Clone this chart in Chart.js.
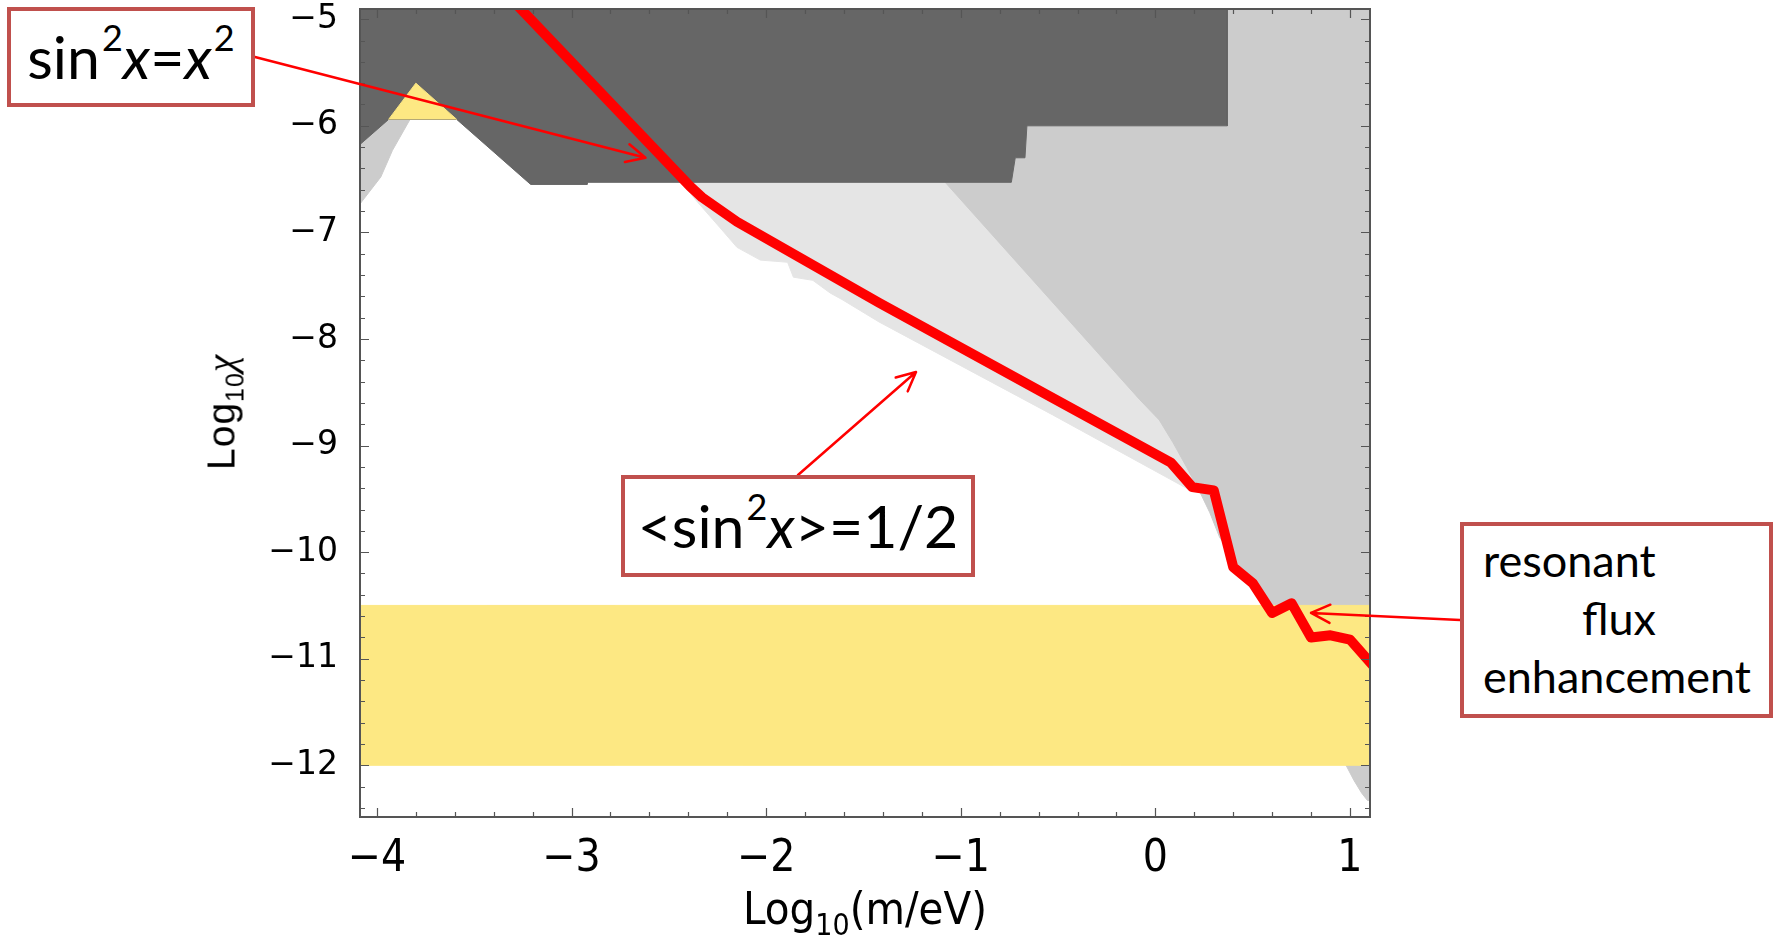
<!DOCTYPE html>
<html>
<head>
<meta charset="utf-8">
<title>Log10 chi vs Log10 m</title>
<script src="https://cdn.jsdelivr.net/npm/chart.js@4.4.1/dist/chart.umd.min.js"></script>
<style>
  html, body { margin: 0; padding: 0; background: #fff; }
  #wrap { position: relative; width: 1775px; height: 937px; overflow: hidden; }
  #chart { position: absolute; left: 0; top: 0; }
  .box { position: absolute; box-sizing: border-box; border: 4px solid #c0504d; background: #fff;
         font-family: Lato, 'Open Sans', sans-serif; color: #000; white-space: nowrap; }
  .box sup { font-size: 36px; position: relative; top: -28px; vertical-align: baseline; line-height: 0; margin-left: 2px; }
  #box1 { left: 7px; top: 7px; width: 248px; height: 100px; font-size: 59px; line-height: 92px; text-align: center; }
  #box2 { left: 621px; top: 475px; width: 354px; height: 102px; font-size: 59px; line-height: 94px; text-align: center; }
  #box3 { left: 1460px; top: 522px; width: 313px; height: 196px; font-size: 45px; line-height: 58px; padding: 5px 0 0 19px; }
  #box3 .indent { padding-left: 99px; }
  .axis-title { position: absolute; white-space: nowrap; color: #000; }
  .axis-title sub { vertical-align: baseline; position: relative; line-height: 0; }
  #xtitle { left: 865px; top: 886px; transform: translateX(-50%);
            font: 45px 'Liberation Sans Narrow', 'DejaVu Sans Condensed', sans-serif; line-height: 45px; }
  #xtitle sub { font-size: 30px; top: 11px; }
  #ytitle { left: 221px; top: 412px; transform: translate(-50%, -50%) rotate(-90deg);
            font: 39px 'Liberation Sans', Arial, sans-serif; line-height: 39px; letter-spacing: 1px; }
  #ytitle sub { font-size: 25px; top: 9px; }
  #ytitle i { font-family: 'Liberation Serif', serif; }
</style>
</head>
<body>
<div id="wrap">
  <canvas id="chart" width="1775" height="937"></canvas>
  <div class="box" id="box1">sin<sup>2</sup><i>x</i>=<i>x</i><sup>2</sup></div>
  <div class="box" id="box2">&lt;sin<sup>2</sup><i>x</i>&gt;=1/2</div>
  <div class="box" id="box3"><div>resonant</div><div class="indent">flux</div><div>enhancement</div></div>
  <div class="axis-title" id="xtitle">Log<sub>10</sub>(m/eV)</div>
  <div class="axis-title" id="ytitle">Log<sub>10</sub><i>χ</i></div>
</div>
<script>
// axis ticks
const xTicks = [-4, -3, -2, -1, 0, 1];
const yTicks = [-5, -6, -7, -8, -9, -10, -11, -12];

// red curve, <sin^2 x> = 1/2
const redX = [-3.32, -2.39, -2.33, -2.15, -1.42, -0.54, 0.08, 0.19, 0.30, 0.40, 0.50, 0.60, 0.70, 0.80, 0.90, 1.00, 1.15];
const redY = [-4.79, -6.57, -6.67, -6.90, -7.66, -8.54, -9.16, -9.39, -9.42, -10.14, -10.29, -10.57, -10.48, -10.80, -10.78, -10.82, -11.13];

// dark grey region at the top
const darkX = [-4.3, 0.37, 0.37, -0.66, -0.67, -0.72, -0.74, -2.92, -2.92, -3.21, -3.59, -3.94, -4.09, -4.3];
const darkY = [-4.7, -4.7, -6.0, -6.0, -6.30, -6.30, -6.53, -6.53, -6.55, -6.55, -5.94, -5.94, -6.18, -6.18];

// grey strip on the far left
const stripX = [-4.3, -3.90, -3.83, -3.92, -3.98, -4.09, -4.3];
const stripY = [-5.9, -5.90, -5.94, -6.23, -6.48, -6.74, -7.03];

// grey region on the right
const greyX = [-1.08, 1.2, 1.2, 1.09, 1.06, 1.02, 0.98, 0.77, 0.55, 0.49, 0.42, 0.33, 0.28, 0.23, 0.16, 0.09, 0.02, -0.08, -1.08];
const greyY = [-4.7, -4.7, -12.33, -12.33, -12.26, -12.14, -12.0, -11.29, -10.49, -10.33, -10.10, -9.86, -9.63, -9.44, -9.20, -8.97, -8.76, -8.57, -6.53];

// pale grey wedge along the red curve
const paleX = [-2.55, -2.43, -2.36, -2.24, -2.15, -2.03, -1.89, -1.86, -1.76, -1.67, -1.61, -1.42, -0.53, 0.18, 0.23, 0.60, 0.60];
const paleY = [-6.40, -6.54, -6.70, -6.95, -7.14, -7.26, -7.28, -7.42, -7.45, -7.57, -7.63, -7.84, -8.71, -9.42, -9.44, -8.50, -6.40];

// yellow band and the small yellow triangle
const bandX = [-4.3, 1.2, 1.2, -4.3];
const bandY = [-10.5, -10.5, -12.0, -12.0];
const triX = [-3.94, -3.80, -3.59];
const triY = [-5.94, -5.60, -5.94];

// where the annotation arrows point
const tipX = [-2.62, -1.23, 0.80];
const tipY = [-6.30, -8.31, -10.57];
const tipFrom = [['box1', 'right'], ['box2', 'top'], ['box3', 'left']];

function pts(xs, ys) {
    return xs.map((x, i) => ({ x: x, y: ys[i] }));
}

function area(xs, ys, color, order) {
    return {
        data: pts(xs, ys),
        fill: 'shape',
        backgroundColor: color,
        borderColor: color,
        borderWidth: 1,
        pointRadius: 0,
        clip: 0,
        order: order
    };
}

function minus(v) {
    return String(v).replace('-', '\u2212');
}

function anchorOf(id, side) {
    const el = document.getElementById(id);
    const l = el.offsetLeft, t = el.offsetTop, w = el.offsetWidth, h = el.offsetHeight;
    if (side === 'right') return [l + w, t + h / 2];
    if (side === 'left') return [l, t + h / 2];
    return [l + w / 2, t];
}

// frame with inward ticks on all four sides
const frame = {
    id: 'frame',
    afterDatasetsDraw(chart) {
        const { ctx, chartArea: a, scales: { x, y } } = chart;
        ctx.save();
        ctx.strokeStyle = '#555';
        ctx.lineWidth = 1.2;
        ctx.beginPath();
        for (let i = -20; i <= 5; i++) {
            const px = Math.round(x.getPixelForValue(i / 5)) + 0.5;
            const len = i % 5 === 0 ? 9 : 5;
            ctx.moveTo(px, a.bottom); ctx.lineTo(px, a.bottom - len);
            ctx.moveTo(px, a.top); ctx.lineTo(px, a.top + len);
        }
        for (let i = -62; i <= -25; i++) {
            const py = Math.round(y.getPixelForValue(i / 5)) + 0.5;
            const len = i % 5 === 0 ? 9 : 5;
            ctx.moveTo(a.left, py); ctx.lineTo(a.left + len, py);
            ctx.moveTo(a.right, py); ctx.lineTo(a.right - len, py);
        }
        ctx.stroke();
        ctx.lineWidth = 2;
        ctx.strokeRect(a.left, a.top, a.right - a.left, a.bottom - a.top);
        ctx.restore();
    }
};

// red arrows from the text boxes
const arrows = {
    id: 'arrows',
    afterDraw(chart) {
        const { ctx, scales: { x, y } } = chart;
        ctx.save();
        ctx.strokeStyle = '#ff0000';
        ctx.lineWidth = 2.5;
        ctx.lineCap = 'round';
        tipX.forEach((tx, i) => {
            const [x0, y0] = anchorOf(tipFrom[i][0], tipFrom[i][1]);
            const x1 = x.getPixelForValue(tx), y1 = y.getPixelForValue(tipY[i]);
            const ang = Math.atan2(y1 - y0, x1 - x0);
            ctx.beginPath();
            ctx.moveTo(x0, y0);
            ctx.lineTo(x1, y1);
            [-1, 1].forEach(s => {
                ctx.moveTo(x1, y1);
                ctx.lineTo(x1 - 21 * Math.cos(ang + s * 0.45), y1 - 21 * Math.sin(ang + s * 0.45));
            });
            ctx.stroke();
        });
        ctx.restore();
    }
};

new Chart(document.getElementById('chart'), {
    type: 'line',
    data: {
        datasets: [
            { data: pts(redX, redY), borderColor: '#ff0000', borderWidth: 10, borderJoinStyle: 'round',
              fill: false, pointRadius: 0, clip: 0, order: 0 },
            area(triX, triY, '#fde883', 1),
            area(bandX, bandY, '#fde883', 2),
            area(darkX, darkY, '#666666', 3),
            area(stripX, stripY, '#cccccc', 4),
            area(greyX, greyY, '#cccccc', 5),
            area(paleX, paleY, '#e5e5e5', 6)
        ]
    },
    options: {
        responsive: false,
        devicePixelRatio: 1,
        animation: false,
        layout: { padding: { top: 9, right: 405, bottom: 0, left: 0 } },
        plugins: { legend: { display: false }, tooltip: { enabled: false } },
        scales: {
            x: {
                type: 'linear',
                min: -4.087,
                max: 1.103,
                grid: { display: false, drawTicks: false },
                border: { display: false },
                afterBuildTicks: s => { s.ticks = xTicks.map(v => ({ value: v })); },
                ticks: {
                    autoSkip: false,
                    maxRotation: 0,
                    padding: 16,
                    color: '#000',
                    font: { family: "'Liberation Sans Narrow', 'DejaVu Sans Condensed', sans-serif", size: 44 },
                    callback: v => minus(v)
                },
                afterFit: s => { s.height = 120; s.paddingLeft = 0; s.paddingRight = 0; }
            },
            y: {
                type: 'linear',
                min: -12.485,
                max: -4.904,
                grid: { display: false, drawTicks: false },
                border: { display: false },
                afterBuildTicks: s => { s.ticks = yTicks.map(v => ({ value: v })); },
                ticks: {
                    autoSkip: false,
                    padding: 22,
                    color: '#000',
                    font: { family: "'DejaVu Sans', sans-serif", size: 33 },
                    callback: v => minus(v)
                },
                afterFit: s => { s.width = 360; s.paddingTop = 0; s.paddingBottom = 0; }
            }
        }
    },
    plugins: [frame, arrows]
});
</script>
</body>
</html>
